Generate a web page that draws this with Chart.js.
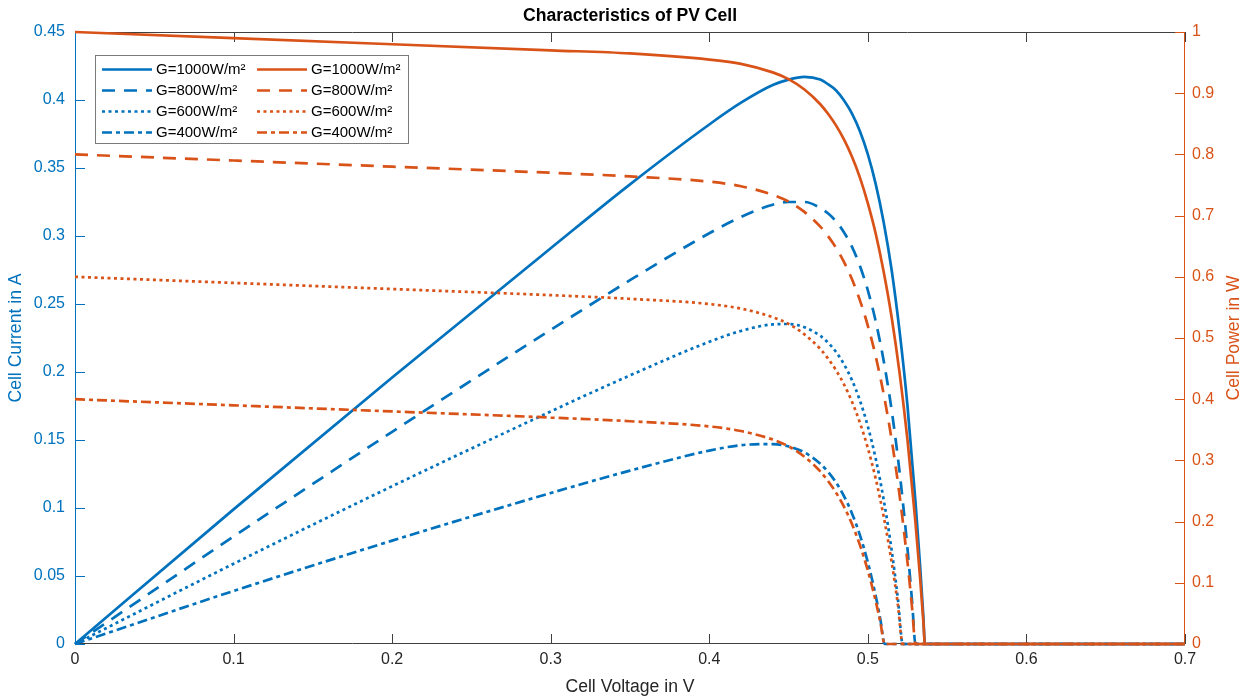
<!DOCTYPE html>
<html>
<head>
<meta charset="utf-8">
<script src="https://cdn.jsdelivr.net/npm/chart.js@4.4.1/dist/chart.umd.min.js"></script>
<style>
  html, body { margin: 0; padding: 0; background: #fff; }
  canvas { display: block; }
</style>
</head>
<body>
<canvas id="pvChart" width="1254" height="698"></canvas>
<script>
// values
const irradiance = ['G=1000W/m²', 'G=800W/m²', 'G=600W/m²', 'G=400W/m²'];

const volt1000 = [0, 0.1, 0.2, 0.3, 0.35, 0.4, 0.42, 0.44, 0.45, 0.46, 0.47, 0.475, 0.48, 0.485, 0.49, 0.495, 0.5, 0.505, 0.51, 0.515, 0.52, 0.525, 0.53, 0.533, 0.535, 0.536, 0.7];
const curr1000 = [1.0, 0.99, 0.98, 0.97, 0.965, 0.955, 0.948, 0.934, 0.923, 0.906, 0.882, 0.866, 0.847, 0.824, 0.796, 0.762, 0.72, 0.67, 0.608, 0.534, 0.443, 0.333, 0.199, 0.106, 0.037, 0, 0];
const pow1000  = [0, 0.099, 0.196, 0.291, 0.338, 0.382, 0.398, 0.411, 0.415, 0.417, 0.415, 0.4115, 0.407, 0.3996, 0.39, 0.377, 0.36, 0.338, 0.31, 0.275, 0.23, 0.175, 0.105, 0.0565, 0.02, 0, 0];

const volt800 = [0, 0.1, 0.2, 0.3, 0.35, 0.4, 0.42, 0.44, 0.45, 0.46, 0.47, 0.475, 0.48, 0.485, 0.49, 0.495, 0.5, 0.505, 0.51, 0.515, 0.52, 0.525, 0.528, 0.53, 0.7];
const curr800 = [0.8, 0.79, 0.78, 0.77, 0.764, 0.7555, 0.748, 0.734, 0.723, 0.706, 0.682, 0.666, 0.647, 0.624, 0.596, 0.5615, 0.52, 0.4695, 0.408, 0.334, 0.243, 0.1335, 0.056, 0, 0];
const pow800  = [0, 0.079, 0.156, 0.231, 0.2675, 0.302, 0.314, 0.323, 0.325, 0.325, 0.3206, 0.3165, 0.3107, 0.3026, 0.292, 0.278, 0.26, 0.237, 0.208, 0.172, 0.1265, 0.07, 0.0296, 0, 0];

const volt600 = [0, 0.1, 0.2, 0.3, 0.35, 0.4, 0.42, 0.44, 0.45, 0.46, 0.47, 0.475, 0.48, 0.485, 0.49, 0.495, 0.5, 0.505, 0.51, 0.515, 0.519, 0.522, 0.7];
const curr600 = [0.6, 0.59, 0.58, 0.57, 0.564, 0.5555, 0.548, 0.534, 0.523, 0.506, 0.482, 0.466, 0.447, 0.424, 0.396, 0.3615, 0.32, 0.2695, 0.208, 0.134, 0.063, 0, 0];
const pow600  = [0, 0.059, 0.116, 0.171, 0.1975, 0.2222, 0.2302, 0.235, 0.2353, 0.2329, 0.2266, 0.2215, 0.2147, 0.2056, 0.194, 0.179, 0.16, 0.136, 0.106, 0.069, 0.0326, 0, 0];

const volt400 = [0, 0.1, 0.2, 0.3, 0.35, 0.4, 0.42, 0.44, 0.45, 0.46, 0.47, 0.475, 0.48, 0.485, 0.49, 0.495, 0.5, 0.505, 0.508, 0.5106, 0.7];
const curr400 = [0.4, 0.39, 0.38, 0.37, 0.364, 0.3555, 0.348, 0.334, 0.323, 0.306, 0.282, 0.266, 0.247, 0.224, 0.196, 0.1615, 0.12, 0.0695, 0.034, 0, 0];
const pow400  = [0, 0.039, 0.076, 0.111, 0.1275, 0.1422, 0.1462, 0.147, 0.1453, 0.1409, 0.1326, 0.1265, 0.1187, 0.1086, 0.096, 0.08, 0.06, 0.0351, 0.0173, 0, 0];

const voltTicks = [0, 0.1, 0.2, 0.3, 0.4, 0.5, 0.6, 0.7];
const currentTicks = [0, 0.05, 0.1, 0.15, 0.2, 0.25, 0.3, 0.35, 0.4, 0.45];
const powerTicks = [0, 0.1, 0.2, 0.3, 0.4, 0.5, 0.6, 0.7, 0.8, 0.9, 1];

const BLUE = '#0072BD';
const ORANGE = '#D95319';
const AXIS = '#404040';
const FONT = '"Liberation Sans", Arial, Helvetica, sans-serif';

const volts = [volt1000, volt800, volt600, volt400];
const currents = [curr1000, curr800, curr600, curr400];
const powers = [pow1000, pow800, pow600, pow400];
const dashes = [[], [13, 9], [3, 3.5], [10, 4, 4, 4]];

function pts(xs, ys) {
  return xs.map((x, i) => ({ x: x, y: ys[i] }));
}

const datasets = [];
irradiance.forEach((lab, i) => {
  datasets.push({
    label: lab, yAxisID: 'y1', order: 0,
    data: pts(volts[i], currents[i]),
    borderColor: ORANGE, borderWidth: 2.7, borderDash: dashes[i]
  });
  datasets.push({
    label: lab, yAxisID: 'y', order: 1,
    data: pts(volts[i], powers[i]),
    borderColor: BLUE, borderWidth: 2.7, borderDash: dashes[i]
  });
});
datasets.forEach(d => {
  d.pointRadius = 0;
  d.fill = false;
  d.borderCapStyle = 'butt';
  d.cubicInterpolationMode = 'monotone';
  d.clip = false;
});

function fmt(v) { return String(Number(v.toFixed(2))); }

// axis lines + inward ticks, drawn under the data like matlab
const axesPlugin = {
  id: 'axesPlugin',
  beforeDatasetsDraw(chart) {
    const { ctx, chartArea: a, scales } = chart;
    ctx.save();
    ctx.lineWidth = 1;
    ctx.strokeStyle = AXIS;
    ctx.beginPath();
    ctx.moveTo(a.left, a.top + 0.5); ctx.lineTo(a.right, a.top + 0.5);
    ctx.moveTo(a.left, a.bottom - 0.5); ctx.lineTo(a.right, a.bottom - 0.5);
    scales.x.ticks.forEach(t => {
      const px = Math.round(scales.x.getPixelForValue(t.value)) + 0.5;
      ctx.moveTo(px, a.bottom); ctx.lineTo(px, a.bottom - 10);
      ctx.moveTo(px, a.top); ctx.lineTo(px, a.top + 10);
    });
    ctx.stroke();

    ctx.strokeStyle = BLUE;
    ctx.beginPath();
    ctx.moveTo(a.left + 0.5, a.top); ctx.lineTo(a.left + 0.5, a.bottom);
    scales.y.ticks.forEach(t => {
      const py = Math.round(scales.y.getPixelForValue(t.value)) + 0.5;
      ctx.moveTo(a.left, py); ctx.lineTo(a.left + 10, py);
    });
    ctx.stroke();

    ctx.strokeStyle = ORANGE;
    ctx.beginPath();
    ctx.moveTo(a.right - 0.5, a.top); ctx.lineTo(a.right - 0.5, a.bottom);
    scales.y1.ticks.forEach(t => {
      const py = Math.round(scales.y1.getPixelForValue(t.value)) + 0.5;
      ctx.moveTo(a.right, py); ctx.lineTo(a.right - 10, py);
    });
    ctx.stroke();

    // title and right label (matlab keeps it reading upward)
    ctx.fillStyle = '#000';
    ctx.font = 'bold 17.6px ' + FONT;
    ctx.textAlign = 'center';
    ctx.textBaseline = 'middle';
    ctx.fillText('Characteristics of PV Cell', (a.left + a.right) / 2, 16);

    ctx.fillStyle = ORANGE;
    ctx.font = '17.6px ' + FONT;
    ctx.translate(chart.width - 20, (a.top + a.bottom) / 2);
    ctx.rotate(-Math.PI / 2);
    ctx.fillText('Cell Power in W', 0, 0);
    ctx.restore();
  }
};

const legendPlugin = {
  id: 'legendPlugin',
  afterDatasetsDraw(chart) {
    const { ctx, chartArea: a } = chart;
    const x0 = a.left + 20, y0 = a.top + 23;
    ctx.save();
    ctx.fillStyle = '#fff';
    ctx.fillRect(x0, y0, 313, 88);
    ctx.strokeStyle = '#7a7a7a';
    ctx.lineWidth = 1;
    ctx.strokeRect(x0 + 0.5, y0 + 0.5, 313, 88);
    ctx.font = '15px ' + FONT;
    ctx.textBaseline = 'middle';
    ctx.textAlign = 'left';
    [BLUE, ORANGE].forEach((col, c) => {
      const lx = x0 + 7 + c * 155;
      irradiance.forEach((lab, r) => {
        const ly = Math.round(y0 + 13.5 + r * 21) + 0.5;
        ctx.strokeStyle = col;
        ctx.lineWidth = 2.7;
        ctx.lineCap = 'butt';
        ctx.setLineDash(dashes[r]);
        ctx.beginPath();
        ctx.moveTo(lx, ly); ctx.lineTo(lx + 50, ly);
        ctx.stroke();
        ctx.setLineDash([]);
        ctx.fillStyle = '#000';
        ctx.fillText(lab, lx + 54, ly);
      });
    });
    ctx.restore();
  }
};

new Chart(document.getElementById('pvChart'), {
  type: 'line',
  data: { datasets: datasets },
  options: {
    responsive: false,
    animation: false,
    devicePixelRatio: 1,
    layout: { padding: { top: 32, left: 0, right: 0, bottom: 0 } },
    plugins: {
      legend: { display: false },
      tooltip: { enabled: false },
      title: { display: false }
    },
    scales: {
      x: {
        type: 'linear', min: 0, max: 0.7,
        afterBuildTicks: s => { s.ticks = voltTicks.map(v => ({ value: v })); },
        afterFit: s => { s.height = 54; },
        grid: { display: false, drawTicks: false },
        border: { display: false },
        ticks: { color: '#262626', font: { family: FONT, size: 16 }, padding: 6, maxRotation: 0, callback: v => fmt(v) },
        title: { display: true, text: 'Cell Voltage in V', color: '#262626', font: { family: FONT, size: 17.6 }, padding: { top: 0, bottom: 0 } }
      },
      y: {
        type: 'linear', position: 'left', min: 0, max: 0.45,
        afterBuildTicks: s => { s.ticks = currentTicks.map(v => ({ value: v })); },
        afterFit: s => { s.width = 75; },
        grid: { display: false, drawTicks: false },
        border: { display: false },
        ticks: { color: BLUE, font: { family: FONT, size: 16 }, padding: 10, callback: v => fmt(v) },
        title: { display: true, text: 'Cell Current in A', color: BLUE, font: { family: FONT, size: 17.6 }, padding: { top: 6, bottom: 0 } }
      },
      y1: {
        type: 'linear', position: 'right', min: 0, max: 1,
        afterBuildTicks: s => { s.ticks = powerTicks.map(v => ({ value: v })); },
        afterFit: s => { s.width = 69; },
        grid: { display: false, drawTicks: false, drawOnChartArea: false },
        border: { display: false },
        ticks: { color: ORANGE, font: { family: FONT, size: 16 }, padding: 7, callback: v => fmt(v) }
      }
    }
  },
  plugins: [axesPlugin, legendPlugin]
});
</script>
</body>
</html>
